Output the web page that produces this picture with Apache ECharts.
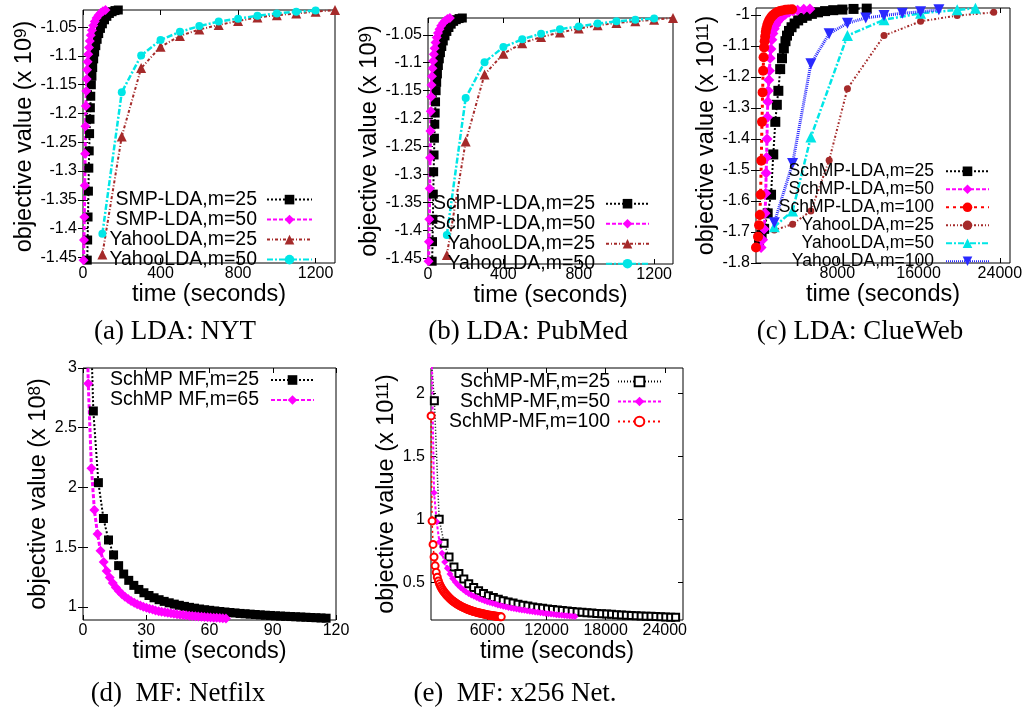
<!DOCTYPE html>
<html>
<head>
<meta charset="utf-8">
<title>objective value vs time</title>
<script src="https://cdn.jsdelivr.net/npm/echarts@6/dist/echarts.min.js"></script>
<style>
  html, body { margin: 0; padding: 0; background: #fff; }
  #chart { width: 1028px; height: 713px; }
</style>
</head>
<body>
<div id="chart"></div>
<script>
// ---- tick labels ----
const ldaTicksX = [0, 400, 800, 1200];
const ldaTicksY = [-1.45, -1.4, -1.35, -1.3, -1.25, -1.2, -1.15, -1.1, -1.05];
const clueTicksX = [8000, 16000, 24000];
const clueTicksY = [-1.8, -1.7, -1.6, -1.5, -1.4, -1.3, -1.2, -1.1, -1];
const netflixTicksX = [0, 30, 60, 90, 120];
const netflixTicksY = [1, 1.5, 2, 2.5, 3];
const x256TicksX = [6000, 12000, 18000, 24000];
const x256TicksY = [0.5, 1, 1.5, 2];

// ---- (a) NYT, [seconds, objective x1e9] ----
const nytSmp25 = [[22,-1.455],[24,-1.42],[26,-1.38],[28,-1.335],[30,-1.295],[32,-1.265],[34,-1.235],[36,-1.21],[38,-1.19],[40,-1.17],[43,-1.15],[46,-1.135],[50,-1.12],[55,-1.105],[60,-1.093],[66,-1.082],[73,-1.071],[81,-1.061],[90,-1.052],[100,-1.044],[111,-1.037],[123,-1.031],[136,-1.026],[150,-1.023],[165,-1.021],[182,-1.02],[200,-1.019]];
const nytSmp50 = [[3,-1.455],[5,-1.42],[7,-1.38],[9,-1.325],[11,-1.27],[13,-1.222],[15,-1.187],[17,-1.161],[19,-1.14],[21,-1.124],[24,-1.11],[27,-1.097],[31,-1.085],[35,-1.074],[40,-1.064],[46,-1.055],[53,-1.047],[61,-1.04],[70,-1.034],[80,-1.029],[91,-1.025],[103,-1.022],[116,-1.02],[130,-1.019],[145,-1.018]];
const nytYahoo25 = [[100,-1.445],[200,-1.24],[300,-1.121],[400,-1.084],[500,-1.065],[600,-1.054],[700,-1.046],[800,-1.039],[900,-1.033],[1000,-1.029],[1100,-1.026],[1200,-1.023],[1300,-1.02]];
const nytYahoo50 = [[100,-1.409],[200,-1.163],[300,-1.099],[400,-1.072],[500,-1.058],[600,-1.048],[700,-1.04],[800,-1.035],[900,-1.03],[1000,-1.026],[1100,-1.023],[1200,-1.021]];

// ---- (b) PubMed, [seconds, objective x1e9] ----
const pubmedSchmp25 = [[22,-1.455],[24,-1.42],[26,-1.38],[28,-1.335],[30,-1.295],[32,-1.265],[34,-1.235],[36,-1.21],[38,-1.19],[40,-1.17],[43,-1.15],[46,-1.135],[50,-1.12],[55,-1.105],[60,-1.093],[66,-1.082],[73,-1.071],[81,-1.061],[90,-1.052],[100,-1.044],[111,-1.037],[123,-1.031],[136,-1.026],[150,-1.023],[165,-1.021],[182,-1.02],[200,-1.019]];
const pubmedSchmp50 = [[3,-1.455],[5,-1.42],[7,-1.38],[9,-1.325],[11,-1.27],[13,-1.222],[15,-1.187],[17,-1.161],[19,-1.14],[21,-1.124],[24,-1.11],[27,-1.097],[31,-1.085],[35,-1.074],[40,-1.064],[46,-1.055],[53,-1.047],[61,-1.04],[70,-1.034],[80,-1.029],[91,-1.025],[103,-1.022],[116,-1.02],[130,-1.019],[145,-1.018]];
const pubmedYahoo25 = [[100,-1.444],[200,-1.241],[300,-1.121],[400,-1.084],[500,-1.065],[600,-1.054],[700,-1.046],[800,-1.039],[900,-1.033],[1000,-1.029],[1100,-1.026],[1200,-1.023],[1300,-1.02]];
const pubmedYahoo50 = [[100,-1.408],[200,-1.163],[300,-1.099],[400,-1.072],[500,-1.058],[600,-1.048],[700,-1.04],[800,-1.035],[900,-1.03],[1000,-1.026],[1100,-1.023],[1200,-1.021]];

// ---- (c) ClueWeb, [seconds, objective x1e11] ----
const clueSchmp25 = [[300,-1.74],[550,-1.71],[800,-1.69],[1150,-1.64],[1480,-1.58],[1700,-1.45],[1900,-1.345],[2050,-1.29],[2200,-1.245],[2380,-1.175],[2560,-1.14],[2740,-1.108],[2900,-1.085],[3050,-1.067],[3250,-1.052],[3500,-1.04],[3800,-1.028],[4150,-1.018],[4550,-1.01],[5000,-1.003],[5500,-0.997],[6100,-0.992],[6800,-0.988],[7600,-0.985],[8500,-0.983],[9600,-0.981],[10900,-0.98]];
const clueSchmp50 = [[500,-1.75],[650,-1.725],[800,-1.69],[900,-1.64],[960,-1.575],[1000,-1.51],[1040,-1.46],[1080,-1.4],[1120,-1.33],[1160,-1.28],[1210,-1.245],[1260,-1.21],[1320,-1.18],[1390,-1.14],[1470,-1.11],[1560,-1.08],[1670,-1.06],[1800,-1.045],[1950,-1.033],[2130,-1.022],[2350,-1.013],[2600,-1.005],[2900,-0.998],[3250,-0.992],[3650,-0.988],[4100,-0.985],[4700,-0.982],[5300,-0.981]];
const clueSchmp100 = [[0,-1.75],[200,-1.715],[300,-1.678],[380,-1.645],[450,-1.58],[520,-1.47],[590,-1.345],[650,-1.25],[700,-1.18],[750,-1.137],[800,-1.105],[850,-1.085],[900,-1.07],[960,-1.055],[1030,-1.043],[1110,-1.033],[1200,-1.025],[1300,-1.018],[1420,-1.011],[1560,-1.005],[1720,-1],[1900,-0.995],[2100,-0.991],[2350,-0.988],[2600,-0.986],[2900,-0.984],[3200,-0.983],[3550,-0.982]];
const clueYahoo25 = [[1800,-1.694],[3600,-1.675],[5400,-1.632],[7200,-1.469],[9000,-1.238],[12600,-1.067],[16200,-1.021],[19800,-1.0025],[23400,-0.992]];
const clueYahoo50 = [[1800,-1.683],[3600,-1.632],[5400,-1.394],[9000,-1.067],[12600,-1.016],[16200,-0.995],[19800,-0.984],[21600,-0.979]];
const clueYahoo100 = [[1800,-1.67],[3600,-1.479],[5400,-1.158],[7200,-1.061],[9000,-1.027],[10800,-1.01],[12600,-1.0025],[14400,-0.995],[16200,-0.99],[18000,-0.984]];

// ---- (d) Netflix, [seconds, objective x1e8] ----
const netflixSchmp25 = [[3.8,3.3],[4.9,2.64],[7.3,2.04],[9.7,1.74],[12.1,1.56],[14.5,1.435],[16.9,1.345],[19.3,1.275],[21.7,1.222],[24.1,1.18],[26.5,1.146],[28.9,1.118],[31.3,1.095],[33.7,1.076],[36.1,1.06],[38.5,1.046],[40.9,1.034],[43.3,1.023],[45.7,1.013],[48.1,1.004],[50.5,0.996],[52.9,0.989],[55.3,0.982],[57.7,0.976],[60.1,0.971],[62.5,0.966],[64.9,0.961],[67.3,0.957],[69.7,0.953],[72.1,0.949],[74.5,0.945],[76.9,0.942],[79.3,0.939],[81.7,0.936],[84.1,0.933],[86.5,0.93],[88.9,0.928],[91.3,0.925],[93.7,0.923],[96.1,0.921],[98.5,0.919],[100.9,0.917],[103.3,0.915],[105.7,0.913],[108.1,0.911],[110.5,0.909],[112.9,0.907],[115.3,0.905]];
const netflixSchmp65 = [[1.8,3.4],[2.5,2.87],[4,2.16],[5.4,1.81],[6.9,1.61],[8.3,1.47],[9.8,1.375],[11.2,1.3],[12.7,1.245],[14.1,1.2],[15.6,1.163],[17,1.132],[18.5,1.106],[19.9,1.084],[21.4,1.065],[22.8,1.049],[24.3,1.035],[25.7,1.022],[27.2,1.011],[28.6,1.001],[30.1,0.992],[31.5,0.984],[33,0.977],[34.4,0.97],[35.9,0.964],[37.3,0.959],[38.8,0.954],[40.2,0.95],[41.7,0.946],[43.1,0.942],[44.6,0.938],[46,0.935],[47.5,0.932],[48.9,0.929],[50.4,0.926],[51.8,0.924],[53.3,0.921],[54.7,0.919],[56.2,0.917],[57.6,0.915],[59.1,0.913],[60.5,0.911],[62,0.909],[63.4,0.908],[64.9,0.906],[66.3,0.905],[67.8,0.903]];

// ---- (e) x256 Netflix, [seconds, objective x1e11] ----
const x256Schmp25 = [[300,2.28],[610,1.94],[1100,1],[1600,0.81],[2100,0.7],[2600,0.62],[3100,0.57],[3600,0.525],[4100,0.487],[4600,0.457],[5100,0.432],[5600,0.411],[6100,0.393],[6600,0.378],[7100,0.365],[7600,0.353],[8100,0.343],[8600,0.334],[9100,0.325],[9600,0.318],[10100,0.311],[10600,0.304],[11100,0.298],[11600,0.293],[12100,0.288],[12600,0.283],[13100,0.279],[13600,0.275],[14100,0.271],[14600,0.268],[15100,0.264],[15600,0.261],[16100,0.258],[16600,0.255],[17100,0.252],[17600,0.25],[18100,0.247],[18600,0.245],[19100,0.242],[19600,0.24],[20100,0.238],[20600,0.236],[21100,0.234],[21600,0.232],[22100,0.23],[22600,0.229],[23100,0.227],[23600,0.225],[24100,0.224],[24600,0.222],[25100,0.221]];
const x256Schmp50 = [[310,2.45],[580,1.21],[850,0.98],[1120,0.82],[1390,0.73],[1660,0.66],[1930,0.61],[2200,0.565],[2470,0.53],[2740,0.502],[3010,0.478],[3280,0.458],[3550,0.44],[3820,0.425],[4090,0.411],[4360,0.399],[4630,0.388],[4900,0.378],[5170,0.369],[5440,0.36],[5710,0.352],[5980,0.345],[6250,0.338],[6520,0.332],[6790,0.326],[7060,0.32],[7330,0.315],[7600,0.31],[7870,0.305],[8140,0.3],[8410,0.296],[8680,0.292],[8950,0.288],[9220,0.284],[9490,0.28],[9760,0.277],[10030,0.273],[10300,0.27],[10570,0.267],[10840,0.264],[11110,0.261],[11380,0.258],[11650,0.255],[11920,0.252],[12190,0.25],[12460,0.247],[12730,0.245],[13000,0.242],[13270,0.24],[13540,0.237],[13810,0.235],[14080,0.233],[14350,0.231],[14620,0.229],[14890,0.227]];
const x256Schmp100 = [[280,1.82],[380,0.985],[480,0.8],[580,0.7],[690,0.63],[800,0.578],[910,0.54],[1020,0.51],[1130,0.487],[1240,0.468],[1350,0.452],[1460,0.438],[1570,0.426],[1680,0.415],[1790,0.404],[1900,0.394],[2010,0.385],[2120,0.376],[2230,0.368],[2340,0.36],[2450,0.353],[2560,0.346],[2670,0.34],[2780,0.334],[2890,0.328],[3000,0.323],[3110,0.318],[3220,0.313],[3330,0.308],[3440,0.304],[3550,0.3],[3660,0.296],[3770,0.292],[3880,0.288],[3990,0.285],[4100,0.281],[4210,0.278],[4320,0.275],[4430,0.272],[4540,0.269],[4650,0.267],[4760,0.264],[4870,0.262],[4980,0.259],[5090,0.257],[5200,0.255],[5310,0.253],[5420,0.251],[5530,0.249],[5640,0.247],[5750,0.245],[5860,0.243],[5970,0.242],[6080,0.24],[6190,0.238],[6300,0.237],[6410,0.235],[6520,0.234],[6630,0.233],[6740,0.231],[6850,0.23],[6960,0.229],[7070,0.228],[7180,0.227],[7290,0.226],[7400,0.225]];

const FONT = 'Liberation Sans';

// gnuplot-like line/point styles
const ST = {
  blk:  { color: '#000000', dash: [2, 2], width: 2, symbol: 'rect', size: 9 },
  mag:  { color: '#ff00ff', dash: [4, 2], width: 3, symbol: 'diamond', size: 10 },
  brnT: { color: '#a52a2a', dash: [3, 2, 1, 2], width: 2, symbol: 'triangle', size: 10 },
  cyaC: { color: '#00e6e6', dash: [6, 2, 2, 2], width: 2.5, symbol: 'circle', size: 8 },
  blkL: { color: '#000000', dash: [2, 2], width: 2, symbol: 'rect', size: 10 },
  magL: { color: '#ff00ff', dash: [4, 2], width: 3, symbol: 'diamond', size: 11 },
  red:  { color: '#ff0000', dash: [3, 4], width: 3, symbol: 'circle', size: 10 },
  brnC: { color: '#a52a2a', dash: [2, 2, 1, 2], width: 2, symbol: 'circle', size: 7 },
  cyaT: { color: '#00e6e6', dash: [6, 2, 2, 2], width: 2.5, symbol: 'triangle', size: 11 },
  bluV: { color: '#2a2aff', dash: [1, 1], width: 3, symbol: 'triangle', size: 11, rotate: 180 },
  blkE: { color: '#000000', dash: [1, 2], width: 1.5, symbol: 'emptyRect', size: 7 },
  magE: { color: '#ff00ff', dash: [3, 2], width: 2, symbol: 'diamond', size: 7 },
  redE: { color: '#ff0000', dash: [2, 3], width: 1.5, symbol: 'emptyCircle', size: 7 }
};

const panels = [
  { grid: [83, 10, 252, 253], x: [0, 1300], y: [-1.46, -1.02], xt: ldaTicksX, yt: ldaTicksY, sup: '9', yGap: 33,
    legend: { right: 715, top: 189.6, row: 16.7, font: 19.5, iconW: 45, gap: 5 },
    caption: ['(a) LDA: NYT', 175, 332],
    series: [['a|SMP-LDA,m=25', nytSmp25, ST.blk], ['a|SMP-LDA,m=50', nytSmp50, ST.mag],
             ['a|YahooLDA,m=25', nytYahoo25, ST.brnT], ['a|YahooLDA,m=50', nytYahoo50, ST.cyaC]] },
  { grid: [428, 18, 245, 246], x: [0, 1300], y: [-1.46, -1.02], xt: ldaTicksX, yt: ldaTicksY, sup: '9', yGap: 35,
    legend: { right: 378, top: 193.7, row: 15.9, font: 19.5, iconW: 43, gap: 6 },
    caption: ['(b) LDA: PubMed', 528, 332],
    series: [['b|SchMP-LDA,m=25', pubmedSchmp25, ST.blk], ['b|SchMP-LDA,m=50', pubmedSchmp50, ST.mag],
             ['b|YahooLDA,m=25', pubmedYahoo25, ST.brnT], ['b|YahooLDA,m=50', pubmedYahoo50, ST.cyaC]] },
  { grid: [756, 8, 254, 255], x: [0, 25000], y: [-1.8, -0.978], xt: clueTicksX, yt: clueTicksY, sup: '11', yGap: 20,
    legend: { right: 38, top: 162.3, row: 15.5, font: 17.5, iconW: 43, gap: 7 },
    caption: ['(c) LDA: ClueWeb', 860, 332],
    series: [['c|SchMP-LDA,m=25', clueSchmp25, ST.blkL], ['c|SchMP-LDA,m=50', clueSchmp50, ST.magL],
             ['c|SchMP-LDA,m=100', clueSchmp100, ST.red], ['c|YahooLDA,m=25', clueYahoo25, ST.brnC],
             ['c|YahooLDA,m=50', clueYahoo50, ST.cyaT], ['c|YahooLDA,m=100', clueYahoo100, ST.bluV]] },
  { grid: [83, 368, 253, 252], x: [0, 120], y: [0.89, 3], xt: netflixTicksX, yt: netflixTicksY, sup: '8', yGap: 27,
    legend: { right: 713, top: 370, row: 17.7, font: 19.5, iconW: 43, gap: 7 },
    caption: ['(d)  MF: Netfilx', 178, 694],
    series: [['d|SchMP MF,m=25', netflixSchmp25, ST.blk], ['d|SchMP MF,m=65', netflixSchmp65, ST.mag]] },
  { grid: [431, 368, 252, 252], x: [270, 25850], y: [0.2, 2.2], xt: x256TicksX, yt: x256TicksY, sup: '11', yGap: 29,
    legend: { right: 366, top: 371.5, row: 17, font: 19.5, iconW: 43, gap: 3 },
    caption: ['(e)  MF: x256 Net.', 515, 694],
    series: [['e|SchMP-MF,m=25', x256Schmp25, ST.blkE], ['e|SchMP-MF,m=50', x256Schmp50, ST.magE],
             ['e|SchMP-MF,m=100', x256Schmp100, ST.redE]] }
];

const fmtNum = v => String(Math.round(v * 100) / 100);

const option = {
  animation: false,
  backgroundColor: '#fff',
  textStyle: { fontFamily: FONT, color: '#000' },
  grid: [], xAxis: [], yAxis: [], series: [], legend: [], graphic: []
};

panels.forEach((p, gi) => {
  option.grid.push({
    left: p.grid[0], top: p.grid[1], width: p.grid[2], height: p.grid[3],
    show: true, borderColor: '#000', borderWidth: 1, backgroundColor: 'transparent'
  });
  // bottom axis with labels, top axis as mirror ticks
  option.xAxis.push({
    type: 'value', gridIndex: gi, position: 'bottom', min: p.x[0], max: p.x[1],
    axisLine: { show: false }, splitLine: { show: false },
    axisTick: { inside: true, length: 5, customValues: p.xt, lineStyle: { color: '#000' } },
    axisLabel: { customValues: p.xt, margin: 3, fontSize: 16, fontFamily: FONT, color: '#000', formatter: fmtNum },
    name: 'time (seconds)', nameLocation: 'middle', nameGap: 19,
    nameTextStyle: { fontFamily: FONT, fontSize: 23.5, color: '#000' }
  });
  option.xAxis.push({
    type: 'value', gridIndex: gi, position: 'top', min: p.x[0], max: p.x[1],
    axisLine: { show: false }, splitLine: { show: false }, axisLabel: { show: false },
    axisTick: { inside: true, length: 5, customValues: p.xt, lineStyle: { color: '#000' } }
  });
  option.yAxis.push({
    type: 'value', gridIndex: gi, position: 'left', min: p.y[0], max: p.y[1],
    axisLine: { show: false }, splitLine: { show: false },
    axisTick: { inside: true, length: 5, customValues: p.yt, lineStyle: { color: '#000' } },
    axisLabel: { customValues: p.yt, margin: 6, fontSize: 16, fontFamily: FONT, color: '#000', formatter: fmtNum },
    name: 'objective value (x 10{s|' + p.sup + '})', nameLocation: 'middle', nameGap: p.yGap, nameRotate: 90,
    nameTextStyle: {
      fontFamily: FONT, fontSize: 23.5, color: '#000',
      rich: { s: { fontFamily: FONT, fontSize: 17, color: '#000', verticalAlign: 'top' } }
    }
  });
  option.yAxis.push({
    type: 'value', gridIndex: gi, position: 'right', min: p.y[0], max: p.y[1],
    axisLine: { show: false }, splitLine: { show: false }, axisLabel: { show: false },
    axisTick: { inside: true, length: 5, customValues: p.yt, lineStyle: { color: '#000' } }
  });

  p.series.forEach(([name, data, st]) => {
    option.series.push({
      type: 'line', name: name, data: data,
      xAxisIndex: gi * 2, yAxisIndex: gi * 2,
      symbol: st.symbol, symbolSize: st.size, symbolRotate: st.rotate || 0,
      showSymbol: true, showAllSymbol: true, clip: true,
      lineStyle: { color: st.color, width: st.width, type: st.dash },
      itemStyle: { color: st.color },
      emphasis: { disabled: true }
    });
  });

  const lg = p.legend;
  option.legend.push({
    data: p.series.map(s => s[0]),
    orient: 'vertical', align: 'right', right: lg.right, top: lg.top,
    padding: 0, itemGap: 0, itemWidth: lg.iconW, itemHeight: 12,
    selectedMode: false,
    formatter: n => n.split('|')[1],
    textStyle: { fontFamily: FONT, fontSize: lg.font, color: '#000', width: 175, lineHeight: lg.row,
                 padding: [0, lg.gap, 0, 0] }
  });

  option.graphic.push({
    type: 'text', x: p.caption[1], y: p.caption[2],
    style: { text: p.caption[0], fontFamily: 'Liberation Serif', fontSize: 27, fill: '#000',
             align: 'center', verticalAlign: 'middle' }
  });
});

const chart = echarts.init(document.getElementById('chart'), null, { renderer: 'canvas' });
chart.setOption(option);
</script>
</body>
</html>
